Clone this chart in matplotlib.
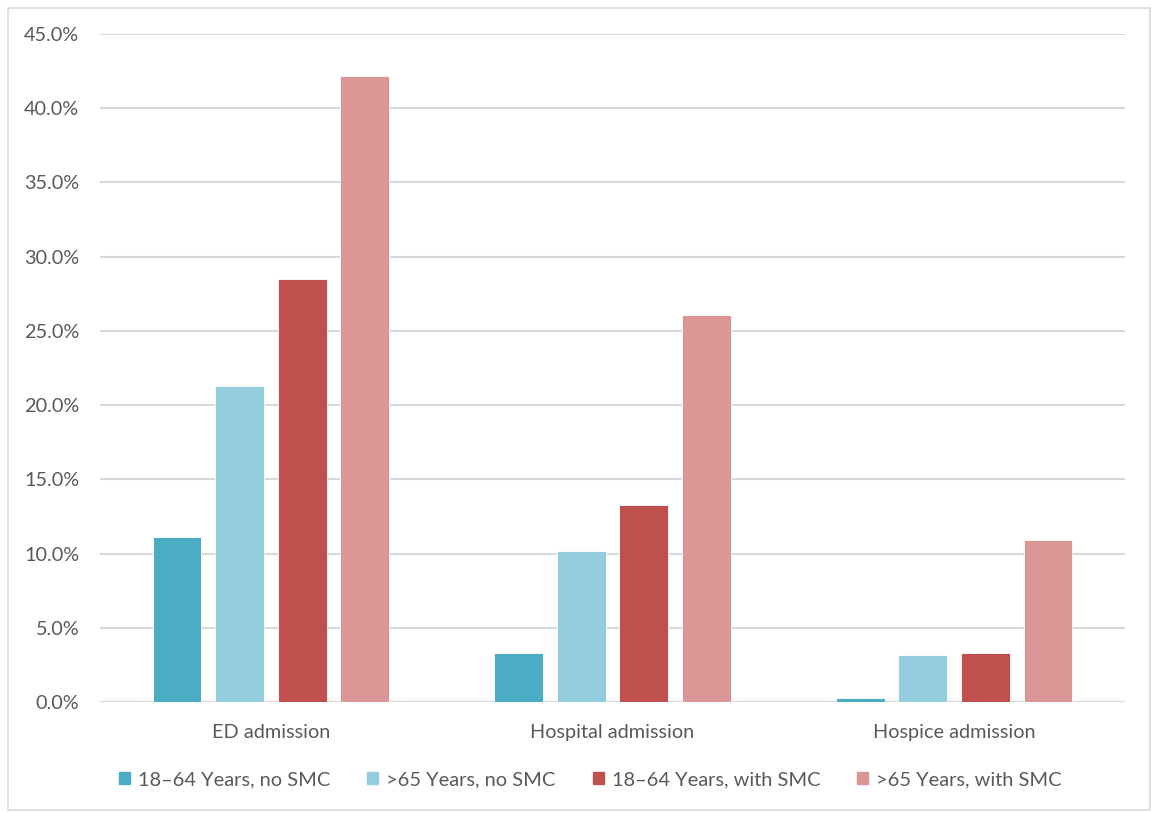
import matplotlib.pyplot as plt
import matplotlib.patches as mpatches
import numpy as np

plt.rcParams['font.family'] = ['Lato', 'DejaVu Sans']

categories = ['ED admission', 'Hospital admission', 'Hospice admission']
series_names = ['18\u201364 Years, no SMC', '>65 Years, no SMC',
                '18\u201364 Years, with SMC', '>65 Years, with SMC']
young_no_smc = [11.1, 3.3, 0.3]
old_no_smc = [21.3, 10.2, 3.2]
young_smc = [28.5, 13.3, 3.3]
old_smc = [42.2, 26.1, 10.9]
yticks = [0, 5, 10, 15, 20, 25, 30, 35, 40, 45]

colors = ['#4BACC6', '#93CDDD', '#C0504D', '#D99694']
grey = '#595959'

fig = plt.figure(figsize=(11.51, 8.13), dpi=100)
ax = fig.add_axes([0.0869, 0.1365, 0.8905, 0.8217])

x = np.arange(len(categories))
width = 0.143
step = 0.183
all_series = [young_no_smc, old_no_smc, young_smc, old_smc]
for i, (vals, c) in enumerate(zip(all_series, colors)):
    ax.bar(x + (i - 1.5) * step, vals, width, color=c, edgecolor='white',
           linewidth=0.6, zorder=3, label=series_names[i])

ax.set_xlim(-0.5, 2.5)
ax.set_ylim(0, 45)
ax.set_yticks(yticks)
ax.set_yticklabels(['%.1f%%' % v for v in yticks])
ax.set_xticks(x)
ax.set_xticklabels(categories)
ax.tick_params(axis='both', length=0, colors=grey, labelsize=14.3)
ax.tick_params(axis='y', pad=15)
ax.tick_params(axis='x', pad=16)
ax.yaxis.grid(True, color='#D9D9D9', linewidth=1.5, zorder=0)
for s in ax.spines.values():
    s.set_visible(False)
ax.axhline(0, color='#D9D9D9', linewidth=1.5, zorder=2)

handles = [mpatches.Patch(color=c) for c in colors]
fig.legend(handles, series_names, loc='center', bbox_to_anchor=(0.513, 0.041),
           ncol=4, frameon=False, fontsize=14.4, labelcolor=grey,
           handlelength=0.55, handleheight=0.55, handletextpad=0.4,
           columnspacing=1.85)

# outer chart border
fig.patches.append(mpatches.Rectangle((8 / 1151, 3 / 813), 1142 / 1151, 802 / 813,
                                      transform=fig.transFigure, fill=False,
                                      edgecolor='#D9D9D9', linewidth=1.2))

fig.savefig('out.png', dpi=100)
plt.close()
